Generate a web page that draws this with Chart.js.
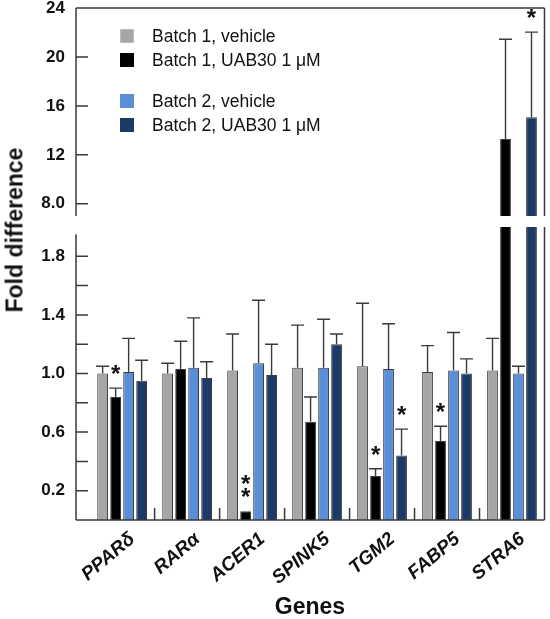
<!DOCTYPE html>
<html>
<head>
<meta charset="utf-8">
<script src="https://cdn.jsdelivr.net/npm/chart.js@4"></script>
<style>
  html, body { margin: 0; padding: 0; background: #fff; }
  #wrap { position: relative; width: 550px; height: 619px; background: #fff; overflow: hidden; font-family: "Liberation Sans", Arial, sans-serif; color: #111; }
  canvas { position: absolute; left: 0; }
  #ytitle { position: absolute; left: 15px; top: 230px; transform: translate(-50%, -50%) rotate(-90deg); font-weight: bold; font-size: 23px; white-space: nowrap; }
  #xtitle { position: absolute; left: 310px; top: 606px; transform: translate(-50%, -50%); font-weight: bold; font-size: 23px; white-space: nowrap; }
  #legend { position: absolute; left: 120px; top: 29px; font-size: 17.5px; }
  .row { position: relative; height: 24px; }
  .row.gap { margin-top: 17px; }
  .sw { position: absolute; left: 0; top: 0; width: 14px; height: 14px; box-sizing: border-box; }
  .lt { position: absolute; left: 32px; top: -3px; line-height: 20px; white-space: nowrap; }
</style>
</head>
<body>
<div id="wrap">
  <canvas id="topChart" width="550" height="222" style="top:0"></canvas>
  <canvas id="botChart" width="550" height="397" style="top:222px"></canvas>
  <div id="ytitle">Fold difference</div>
  <div id="xtitle">Genes</div>
  <div id="legend"></div>
</div>
<script>
// ---------- data ----------
const genes = ['PPARδ', 'RARα', 'ACER1', 'SPINK5', 'TGM2', 'FABP5', 'STRA6'];

const b1Vehicle    = [1.00, 1.00, 1.02, 1.04, 1.05, 1.01, 1.02];
const b1VehicleErr = [0.05, 0.07, 0.25, 0.29, 0.43, 0.18, 0.22];
const b1Uab        = [0.84, 1.03, 0.06, 0.67, 0.30, 0.54, 13.3];
const b1UabErr     = [0.06, 0.19, 0.00, 0.17, 0.05, 0.10, 8.15];
const b2Vehicle    = [1.01, 1.04, 1.07, 1.04, 1.03, 1.02, 1.00];
const b2VehicleErr = [0.23, 0.34, 0.43, 0.33, 0.31, 0.26, 0.05];
const b2Uab        = [0.95, 0.97, 0.99, 1.20, 0.44, 1.00, 15.07];
const b2UabErr     = [0.14, 0.11, 0.21, 0.07, 0.18, 0.10, 6.96];

const noSig     = ['', '', '', '', '', '', ''];
const b1UabSig  = ['*', '', '**', '', '*', '*', ''];
const b2UabSig  = ['', '', '', '', '*', '', '*'];

const seriesLabels = ['Batch 1, vehicle', 'Batch 1, UAB30 1 μM', 'Batch 2, vehicle', 'Batch 2, UAB30 1 μM'];
const seriesColors = ['#a6a6a6', '#000000', '#5a8ed6', '#1b3a66'];

const upperRange = [7, 24];
const upperTicks = [8, 12, 16, 20, 24];
const upperTickLabels = ['8.0', '12', '16', '20', '24'];

const lowerRange = [0, 2.0];
const lowerAxisTop = 1.95;
const lowerTicks = [0.2, 0.4, 0.6, 0.8, 1.0, 1.2, 1.4, 1.6, 1.8];
const lowerTickLabels = ['0.2', '', '0.6', '', '1.0', '', '1.4', '', '1.8'];

const series = [
  { label: seriesLabels[0], color: seriesColors[0], values: b1Vehicle, err: b1VehicleErr, sig: noSig },
  { label: seriesLabels[1], color: seriesColors[1], values: b1Uab,     err: b1UabErr,     sig: b1UabSig },
  { label: seriesLabels[2], color: seriesColors[2], values: b2Vehicle, err: b2VehicleErr, sig: noSig },
  { label: seriesLabels[3], color: seriesColors[3], values: b2Uab,     err: b2UabErr,     sig: b2UabSig },
];

// ---------- legend (HTML) ----------
const legend = document.getElementById('legend');
series.forEach((s, i) => {
  const row = document.createElement('div');
  row.className = 'row' + (i === 2 ? ' gap' : '');
  const sw = document.createElement('div');
  sw.className = 'sw';
  sw.style.background = s.color;
  sw.style.border = '1px solid ' + (i === 0 ? '#bdbdbd' : s.color);
  const t = document.createElement('div');
  t.className = 'lt';
  t.textContent = s.label;
  row.appendChild(sw); row.appendChild(t);
  legend.appendChild(row);
});

// ---------- plugin: error bars, asterisks, frame ----------
const decor = {
  id: 'decor',
  afterDatasetsDraw(chart, args, opts) {
    const ctx = chart.ctx, a = chart.chartArea;
    const ys = chart.scales.y, xs = chart.scales.x;
    const yMax = ys.max;
    // error bars
    ctx.save();
    ctx.beginPath();
    ctx.rect(a.left, a.top - 1, a.right - a.left, a.bottom - a.top + 2);
    ctx.clip();
    ctx.strokeStyle = '#3a3a3a';
    ctx.lineWidth = 1.4;
    series.forEach((s, d) => {
      const meta = chart.getDatasetMeta(d);
      meta.data.forEach((el, i) => {
        const v = chart.data.datasets[d].data[i].y;
        const e = s.err[i];
        if (v == null || !e) return;
        const yt = ys.getPixelForValue(v + e);
        ctx.beginPath();
        ctx.moveTo(el.x, el.y);
        ctx.lineTo(el.x, yt);
        ctx.moveTo(el.x - 6.5, yt);
        ctx.lineTo(el.x + 6.5, yt);
        ctx.stroke();
      });
    });
    ctx.restore();
    // asterisks
    ctx.save();
    ctx.fillStyle = '#111';
    ctx.font = 'bold 24px "Liberation Sans", Arial, sans-serif';
    ctx.textAlign = 'center';
    ctx.textBaseline = 'alphabetic';
    series.forEach((s, d) => {
      const meta = chart.getDatasetMeta(d);
      meta.data.forEach((el, i) => {
        const v = chart.data.datasets[d].data[i].y;
        const mark = s.sig[i];
        if (v == null || !mark) return;
        const top = v + (s.err[i] || 0);
        if (top > yMax) return;
        const yt = ys.getPixelForValue(top);
        for (let k = 0; k < mark.length; k++) {
          ctx.fillText('*', el.x, yt - 6 - k * 13);
        }
      });
    });
    ctx.restore();
    // frame & axes
    ctx.save();
    ctx.strokeStyle = '#3a3a3a';
    ctx.lineWidth = 1.5;
    ctx.beginPath();
    const leftTop = opts.leftTop != null ? ys.getPixelForValue(opts.leftTop) : a.top;
    ctx.moveTo(a.left, leftTop); ctx.lineTo(a.left, a.bottom);
    ctx.moveTo(a.right, a.top); ctx.lineTo(a.right, a.bottom);
    if (opts.top) { ctx.moveTo(a.left, a.top); ctx.lineTo(a.right, a.top); }
    if (opts.bottom) { ctx.moveTo(a.left, a.bottom); ctx.lineTo(a.right, a.bottom); }
    (opts.ticks || []).forEach(t => {
      const y = ys.getPixelForValue(t);
      ctx.moveTo(a.left, y); ctx.lineTo(a.left + 12, y);
    });
    if (opts.separators) {
      for (let i = 0; i < genes.length - 1; i++) {
        const x = xs.getPixelForValue(i + 0.5);
        ctx.moveTo(x, a.bottom); ctx.lineTo(x, a.bottom - 12);
      }
    }
    ctx.stroke();
    ctx.restore();
  }
};

function makeDatasets(filter) {
  return series.map(s => ({
    label: s.label,
    data: s.values.map((v, i) => ({ x: i, y: filter(v) ? v : null })),
    backgroundColor: s.color,
    borderColor: '#3c3c3c',
    borderWidth: 1,
    barPercentage: 0.83,
    categoryPercentage: 0.8
  }));
}

const xMin = -0.71, xMax = 6.5, labelShift = 0.16;
const tickFont = { family: '"Liberation Sans", Arial, sans-serif', size: 17, weight: 'bold' };

function xScale(show) {
  return {
    type: 'linear', min: xMin, max: xMax, display: show, offset: false,
    grid: { display: false, offset: false }, border: { display: false },
    afterBuildTicks(s) { s.ticks = genes.map((g, i) => ({ value: i + labelShift })); },
    afterFit(s) { if (show) { s.height = 99; } s.paddingLeft = 0; s.paddingRight = 0; },
    ticks: {
      autoSkip: false, minRotation: 40, maxRotation: 40, padding: 0, color: '#111',
      font: { family: '"Liberation Sans", Arial, sans-serif', size: 19, weight: 'bold', style: 'italic' },
      callback: (v, i) => genes[i]
    }
  };
}

function yScale(range, ticks, labels) {
  return {
    type: 'linear', min: range[0], max: range[1],
    grid: { display: false, drawTicks: false }, border: { display: false },
    afterBuildTicks(s) { s.ticks = ticks.map(v => ({ value: v })); },
    afterFit(s) { s.width = 76; s.paddingTop = 0; s.paddingBottom = 0; },
    ticks: { padding: 11, color: '#111', font: tickFont, callback: (v, i) => labels[i] }
  };
}

Chart.defaults.animation = false;

new Chart(document.getElementById('topChart'), {
  type: 'bar',
  data: { datasets: makeDatasets(v => v > upperRange[0]) },
  options: {
    responsive: false, devicePixelRatio: 1,
    layout: { padding: { top: 8, bottom: 6, left: 0, right: 5.5 } },
    scales: { x: xScale(false), y: yScale(upperRange, upperTicks, upperTickLabels) },
    plugins: { legend: { display: false }, tooltip: { enabled: false },
      decor: { top: true, bottom: false, ticks: upperTicks, separators: false } }
  },
  plugins: [decor]
});

new Chart(document.getElementById('botChart'), {
  type: 'bar',
  data: { datasets: makeDatasets(v => true) },
  options: {
    responsive: false, devicePixelRatio: 1,
    layout: { padding: { top: 5, bottom: 0, left: 0, right: 5.5 } },
    scales: { x: xScale(true), y: yScale(lowerRange, lowerTicks, lowerTickLabels) },
    plugins: { legend: { display: false }, tooltip: { enabled: false },
      decor: { top: false, bottom: true, ticks: lowerTicks, separators: true, leftTop: lowerAxisTop } }
  },
  plugins: [decor]
});
</script>
</body>
</html>
